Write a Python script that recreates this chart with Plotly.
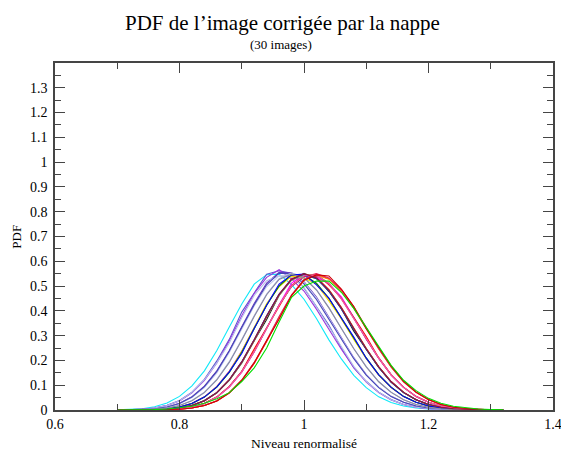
import plotly.graph_objects as go

# Shared abscissa (Niveau renormalisé)
niveau = [0.70, 0.72, 0.74, 0.76, 0.78, 0.80, 0.82, 0.84, 0.86, 0.88,
          0.90, 0.92, 0.94, 0.96, 0.98, 1.00, 1.02, 1.04, 1.06, 1.08,
          1.10, 1.12, 1.14, 1.16, 1.18, 1.20, 1.22, 1.24, 1.26, 1.28,
          1.30, 1.32]

pdf_01 = [0.001,0.002,0.005,0.013,0.028,0.055,0.097,0.158,0.240,0.335,0.428,0.508,0.546,0.548,0.506,0.447,0.369,0.283,0.206,0.140,0.090,0.053,0.030,0.016,0.008,0.004,0.002,0.001,0,0,0,0]
pdf_02 = [0,0.001,0.003,0.008,0.019,0.038,0.072,0.124,0.198,0.285,0.395,0.472,0.548,0.562,0.552,0.492,0.418,0.342,0.250,0.170,0.116,0.072,0.042,0.022,0.011,0.005,0.002,0.001,0,0,0,0]
pdf_03 = [0,0.001,0.003,0.008,0.018,0.036,0.069,0.119,0.190,0.279,0.380,0.470,0.535,0.566,0.528,0.480,0.407,0.326,0.245,0.172,0.113,0.070,0.040,0.022,0.011,0.005,0.002,0.001,0,0,0,0]
pdf_04 = [0,0.001,0.002,0.005,0.012,0.027,0.054,0.096,0.158,0.240,0.336,0.430,0.512,0.556,0.554,0.518,0.456,0.375,0.290,0.211,0.143,0.092,0.055,0.031,0.016,0.008,0.004,0.002,0.001,0,0,0]
pdf_05 = [0,0.001,0.003,0.008,0.018,0.037,0.071,0.122,0.190,0.270,0.372,0.462,0.522,0.541,0.535,0.495,0.416,0.332,0.258,0.176,0.115,0.072,0.041,0.022,0.011,0.005,0.002,0.001,0,0,0,0]
pdf_06 = [0,0.001,0.002,0.005,0.012,0.025,0.050,0.090,0.150,0.232,0.326,0.420,0.497,0.541,0.548,0.515,0.452,0.373,0.289,0.210,0.143,0.092,0.055,0.031,0.016,0.008,0.004,0.002,0.001,0,0,0]
pdf_07 = [0,0.001,0.002,0.005,0.012,0.026,0.052,0.094,0.156,0.238,0.333,0.425,0.505,0.552,0.550,0.509,0.446,0.368,0.285,0.207,0.141,0.090,0.054,0.031,0.016,0.008,0.004,0.002,0.001,0,0,0]
pdf_08 = [0,0,0.001,0.003,0.008,0.018,0.038,0.072,0.124,0.195,0.284,0.380,0.468,0.530,0.553,0.536,0.486,0.413,0.330,0.248,0.175,0.115,0.072,0.041,0.022,0.011,0.005,0.002,0.001,0,0,0]
pdf_09 = [0,0,0,0.001,0.003,0.008,0.018,0.037,0.069,0.120,0.190,0.279,0.365,0.462,0.528,0.546,0.537,0.478,0.409,0.318,0.245,0.172,0.113,0.070,0.041,0.022,0.011,0.005,0.002,0.001,0,0]
pdf_10 = [0,0,0,0.001,0.002,0.005,0.012,0.027,0.053,0.095,0.156,0.246,0.332,0.418,0.503,0.541,0.549,0.505,0.453,0.374,0.296,0.211,0.143,0.092,0.055,0.031,0.016,0.008,0.004,0.002,0.001,0]
pdf_11 = [0,0,0,0,0.001,0.003,0.008,0.018,0.036,0.068,0.118,0.188,0.276,0.372,0.461,0.524,0.546,0.530,0.486,0.416,0.333,0.250,0.176,0.116,0.072,0.042,0.022,0.011,0.005,0.002,0.001,0]
pdf_12 = [0,0,0,0.001,0.003,0.008,0.019,0.038,0.071,0.123,0.195,0.284,0.380,0.468,0.530,0.548,0.536,0.486,0.414,0.331,0.249,0.175,0.115,0.071,0.041,0.022,0.011,0.005,0.002,0.001,0,0]
pdf_13 = [0,0,0,0.001,0.002,0.005,0.012,0.026,0.051,0.092,0.153,0.234,0.330,0.425,0.512,0.546,0.535,0.510,0.457,0.369,0.286,0.208,0.141,0.091,0.054,0.031,0.016,0.008,0.004,0.002,0.001,0]
pdf_14 = [0,0,0.001,0.002,0.005,0.012,0.027,0.053,0.095,0.157,0.238,0.332,0.425,0.502,0.543,0.545,0.510,0.448,0.369,0.286,0.208,0.142,0.091,0.054,0.031,0.016,0.008,0.004,0.002,0.001,0,0]
pdf_15 = [0,0,0,0.001,0.003,0.008,0.018,0.036,0.069,0.119,0.190,0.279,0.375,0.462,0.524,0.544,0.531,0.484,0.412,0.329,0.247,0.174,0.114,0.071,0.041,0.022,0.011,0.005,0.002,0.001,0,0]
pdf_16 = [0,0,0,0,0.001,0.003,0.008,0.018,0.037,0.070,0.120,0.190,0.279,0.374,0.462,0.522,0.545,0.528,0.480,0.410,0.328,0.246,0.173,0.114,0.071,0.041,0.022,0.011,0.005,0.002,0.001,0]
pdf_17 = [0,0,0.001,0.002,0.005,0.012,0.026,0.052,0.094,0.155,0.236,0.330,0.430,0.497,0.540,0.533,0.508,0.440,0.368,0.285,0.207,0.141,0.090,0.054,0.031,0.016,0.008,0.004,0.002,0.001,0,0]
pdf_18 = [0,0,0.001,0.002,0.005,0.012,0.026,0.052,0.092,0.152,0.233,0.328,0.423,0.500,0.546,0.544,0.512,0.451,0.372,0.288,0.210,0.143,0.092,0.055,0.031,0.016,0.008,0.004,0.002,0.001,0,0]
pdf_19 = [0,0,0,0.001,0.003,0.008,0.018,0.037,0.070,0.121,0.193,0.282,0.378,0.466,0.526,0.551,0.532,0.483,0.411,0.328,0.246,0.173,0.114,0.071,0.041,0.022,0.011,0.005,0.002,0.001,0,0]
pdf_20 = [0,0,0,0.001,0.002,0.005,0.012,0.026,0.052,0.094,0.155,0.236,0.331,0.424,0.498,0.538,0.542,0.510,0.449,0.371,0.287,0.209,0.142,0.091,0.054,0.031,0.016,0.008,0.004,0.002,0.001,0]
pdf_21 = [0,0,0,0.001,0.002,0.005,0.012,0.026,0.052,0.093,0.154,0.235,0.329,0.423,0.500,0.544,0.546,0.512,0.450,0.371,0.287,0.209,0.142,0.091,0.054,0.031,0.016,0.008,0.004,0.002,0.001,0]
pdf_22 = [0,0,0,0.001,0.003,0.008,0.018,0.037,0.070,0.120,0.190,0.280,0.376,0.463,0.524,0.546,0.530,0.482,0.410,0.327,0.246,0.173,0.113,0.070,0.041,0.022,0.011,0.005,0.002,0.001,0,0]
pdf_23 = [0,0,0.001,0.002,0.005,0.012,0.026,0.052,0.093,0.154,0.228,0.329,0.423,0.508,0.545,0.548,0.505,0.452,0.372,0.294,0.209,0.142,0.091,0.054,0.031,0.016,0.008,0.004,0.002,0.001,0,0]
pdf_24 = [0,0,0,0.001,0.003,0.008,0.018,0.037,0.070,0.122,0.194,0.283,0.380,0.467,0.527,0.548,0.530,0.480,0.408,0.326,0.245,0.173,0.113,0.070,0.041,0.022,0.011,0.005,0.002,0.001,0,0]
pdf_25 = [0,0,0,0,0.001,0.003,0.008,0.018,0.037,0.070,0.121,0.192,0.281,0.377,0.465,0.527,0.550,0.533,0.484,0.412,0.329,0.247,0.174,0.114,0.071,0.041,0.022,0.011,0.005,0.002,0.001,0]
pdf_26 = [0,0,0,0.001,0.002,0.005,0.012,0.026,0.052,0.093,0.154,0.235,0.329,0.423,0.500,0.541,0.543,0.510,0.448,0.370,0.287,0.209,0.142,0.091,0.054,0.031,0.016,0.008,0.004,0.002,0.001,0]
pdf_27 = [0,0,0.001,0.003,0.008,0.018,0.037,0.070,0.121,0.192,0.281,0.377,0.465,0.527,0.548,0.533,0.484,0.412,0.329,0.247,0.174,0.114,0.071,0.041,0.022,0.011,0.005,0.002,0.001,0,0,0]
pdf_28 = [0,0,0,0,0.001,0.003,0.008,0.018,0.036,0.069,0.119,0.190,0.279,0.366,0.462,0.524,0.545,0.541,0.488,0.417,0.328,0.251,0.177,0.116,0.072,0.042,0.022,0.011,0.005,0.002,0.001,0]
pdf_29 = [0,0,0,0.001,0.003,0.008,0.018,0.037,0.070,0.121,0.192,0.281,0.377,0.465,0.527,0.550,0.533,0.484,0.412,0.329,0.247,0.174,0.114,0.071,0.041,0.022,0.011,0.005,0.002,0.001,0,0]
pdf_30 = [0,0,0.001,0.002,0.004,0.008,0.015,0.027,0.045,0.070,0.115,0.170,0.250,0.355,0.455,0.500,0.520,0.520,0.475,0.410,0.335,0.260,0.180,0.120,0.078,0.047,0.027,0.015,0.008,0.004,0.002,0.001]

series = [pdf_01, pdf_02, pdf_03, pdf_04, pdf_05, pdf_06, pdf_07, pdf_08, pdf_09, pdf_10,
          pdf_11, pdf_12, pdf_13, pdf_14, pdf_15, pdf_16, pdf_17, pdf_18, pdf_19, pdf_20,
          pdf_21, pdf_22, pdf_23, pdf_24, pdf_25, pdf_26, pdf_27, pdf_28, pdf_29, pdf_30]

colors = ["#10e8f8", "#5858d0", "#9933dd", "#6a3ac0", "#b4bfea", "#c4ccf0", "#4646b8", "#a8b2e2",
          "#1a1a1a", "#ff0000", "#e8101a", "#ff2020", "#ff00ff", "#e020c0", "#ffa500", "#ff8c00",
          "#f0e000", "#008b00", "#4a6a4a", "#8b1a4a", "#c08080", "#30c8c0", "#0000ff", "#2030b0",
          "#e0206a", "#ff4f9f", "#8a8aa0", "#d00000", "#a01030", "#00e000"]

x_tickvals = [0.6, 0.8, 1.0, 1.2, 1.4]
x_ticktext = ["0.6", "0.8", "1", "1.2", "1.4"]
x_minor = [0.7, 0.9, 1.1, 1.3]
y_tickvals = [0, 0.1, 0.2, 0.3, 0.4, 0.5, 0.6, 0.7, 0.8, 0.9, 1.0, 1.1, 1.2, 1.3, 1.4]
y_ticktext = ["0", "0.1", "0.2", "0.3", "0.4", "0.5", "0.6", "0.7", "0.8", "0.9", "1", "1.1", "1.2", "1.3", ""]
y_minor = [0.05, 0.15, 0.25, 0.35, 0.45, 0.55, 0.65, 0.75, 0.85, 0.95, 1.05, 1.15, 1.25, 1.35]

FONT = "Liberation Serif, Times New Roman, serif"
AX = "#454545"

fig = go.Figure()
for ys, col in zip(series, colors):
    fig.add_trace(go.Scatter(x=niveau, y=ys, mode="lines",
                             line=dict(color=col, width=1.1), showlegend=False,
                             hoverinfo="skip"))

axis_common = dict(showgrid=False, zeroline=False, showline=True, linecolor=AX, linewidth=1.5,
                   mirror="allticks", ticks="inside", ticklen=10, tickwidth=1, tickcolor=AX,
                   automargin=False, ticklabeloverflow="allow",
                   tickfont=dict(family=FONT, size=14, color="black"))

fig.update_xaxes(range=[0.6, 1.4], tickmode="array", tickvals=x_tickvals, ticktext=x_ticktext,
                 minor=dict(tickmode="array", tickvals=x_minor, ticks="inside", ticklen=6,
                            tickcolor=AX, tickwidth=1, showgrid=False),
                 **axis_common)
fig.update_yaxes(range=[0, 1.4], tickmode="array", tickvals=y_tickvals, ticktext=y_ticktext,
                 minor=dict(tickmode="array", tickvals=y_minor, ticks="inside", ticklen=6,
                            tickcolor=AX, tickwidth=1, showgrid=False),
                 ticklabelstandoff=3,
                 **axis_common)

fig.update_layout(
    width=561, height=456,
    margin=dict(l=55, r=8, t=63, b=46),
    paper_bgcolor="white", plot_bgcolor="white",
    font=dict(family=FONT, color="black"),
    annotations=[
        dict(text="PDF de l’image corrigée par la nappe", xref="paper", yref="paper",
             x=0.457, y=1.115, xanchor="center", yanchor="middle", showarrow=False,
             font=dict(family=FONT, size=21, color="black")),
        dict(text="(30 images)", xref="paper", yref="paper",
             x=0.453, y=1.052, xanchor="center", yanchor="middle", showarrow=False,
             font=dict(family=FONT, size=13, color="black")),
        dict(text="Niveau renormalisé", xref="paper", yref="paper",
             x=0.5, y=-0.097, xanchor="center", yanchor="middle", showarrow=False,
             font=dict(family=FONT, size=13.5, color="black")),
        dict(text="PDF", xref="paper", yref="paper", textangle=-90,
             x=-0.078, y=0.5, xanchor="center", yanchor="middle", showarrow=False,
             font=dict(family=FONT, size=13, color="black")),
    ],
)

fig.write_html("out.html", config={"displayModeBar": False},
               post_script="document.body.style.margin='0';document.body.style.overflow='hidden';")
